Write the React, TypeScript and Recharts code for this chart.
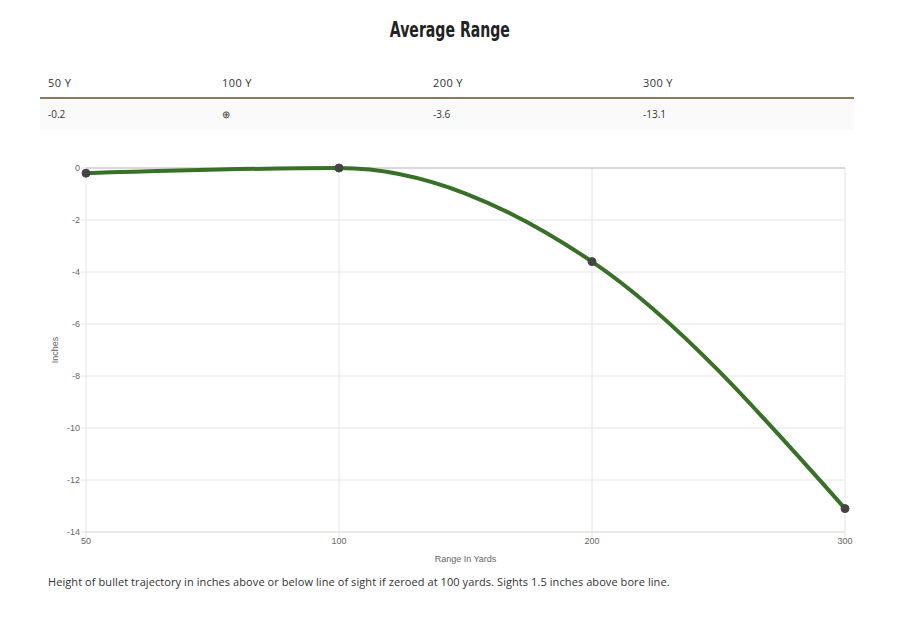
import React from "react";
import {
  LineChart,
  Line,
  XAxis,
  YAxis,
  CartesianGrid,
  ReferenceLine,
  Label,
} from "recharts";

const ranges = ["50", "100", "200", "300"];
const drops = [-0.2, 0, -3.6, -13.1];
const tableLabels = ["-0.2", "\u2295", "-3.6", "-13.1"];
const yTicks = [0, -2, -4, -6, -8, -10, -12, -14];

const data = ranges.map((r, i) => ({ range: r, drop: drops[i] }));

// column x positions of the table (page px)
const colX = [48, 222, 433, 643];

const tickStyle = { fontSize: 9, fill: "#666", fontFamily: "Liberation Sans, Arial, sans-serif" };

export default function App() {
  return (
    <div style={{ position: "relative", width: 884, height: 619, fontFamily: "'Open Sans', sans-serif" }}>
      <div
        style={{
          position: "absolute",
          left: 0,
          width: 884,
          top: 8,
          textAlign: "center",
          lineHeight: "28px",
        }}
      >
        <span
          style={{
            display: "inline-block",
            fontFamily: "'DejaVu Sans', sans-serif",
            fontWeight: 700,
            fontSize: 22,
            color: "#222",
            transform: "scaleX(0.64)",
          }}
        >
          Average Range
        </span>
      </div>

      {/* table */}
      {ranges.map((r, i) => (
        <div
          key={`h-${i}`}
          style={{
            position: "absolute",
            left: colX[i] - 8,
            top: 68,
            fontSize: 11,
            letterSpacing: 0.4,
            color: "#333",
            lineHeight: "14px",
          }}
        >
          {r} Y
        </div>
      ))}
      <div style={{ position: "absolute", left: 32, top: 89, width: 814, height: 2, background: "#8d7a5c" }} />
      <div style={{ position: "absolute", left: 32, top: 91, width: 814, height: 31, background: "#fafafa" }} />
      {tableLabels.map((t, i) => (
        <div
          key={`v-${i}`}
          style={{
            position: "absolute",
            left: colX[i] - 8,
            top: 99,
            fontSize: 10,
            color: "#333",
            lineHeight: "14px",
          }}
        >
          {t}
        </div>
      ))}

      {/* chart */}
      <div style={{ position: "absolute", left: 32, top: 147 }}>
        <LineChart width={820} height={411} data={data} margin={{ top: 13, right: 15, left: 0, bottom: 4 }}>
          <CartesianGrid stroke="#e6e6e6" />
          <XAxis
            dataKey="range"
            tick={tickStyle}
            tickSize={5}
            tickMargin={1}
            tickLine={{ stroke: "#e6e6e6" }}
            axisLine={{ stroke: "#e0e0e0" }}
            height={30}
          >
            <Label value="Range In Yards" position="insideBottom" offset={0} style={tickStyle} />
          </XAxis>
          <YAxis
            domain={[-14, 0]}
            ticks={yTicks}
            width={46}
            tick={tickStyle}
            tickSize={5}
            tickMargin={1}
            tickLine={{ stroke: "#e6e6e6" }}
            axisLine={false}
            interval={0}
          >
            <Label
              content={({ viewBox }: any) => {
                const cx = 15;
                const cy = viewBox.y + viewBox.height / 2;
                return (
                  <text
                    x={cx}
                    y={cy}
                    transform={`rotate(-90 ${cx} ${cy})`}
                    textAnchor="middle"
                    dominantBaseline="central"
                    fontSize={9}
                    fill="#666"
                    fontFamily="Liberation Sans, Arial, sans-serif"
                  >
                    Inches
                  </text>
                );
              }}
            />
          </YAxis>
          <ReferenceLine y={0} stroke="#bdbdbd" />
          <Line
            type="monotone"
            dataKey="drop"
            stroke="#387028"
            strokeWidth={4}
            dot={{ r: 4, fill: "#444", stroke: "#444", strokeWidth: 1 }}
            isAnimationActive={false}
          />
        </LineChart>
      </div>

      <div
        style={{
          position: "absolute",
          left: 40,
          top: 566,
          fontSize: 11,
          letterSpacing: 0.08,
          color: "#333",
          lineHeight: "16px",
          whiteSpace: "nowrap",
        }}
      >
        Height of bullet trajectory in inches above or below line of sight if zeroed at 100 yards. Sights 1.5 inches above bore line.
      </div>
    </div>
  );
}
